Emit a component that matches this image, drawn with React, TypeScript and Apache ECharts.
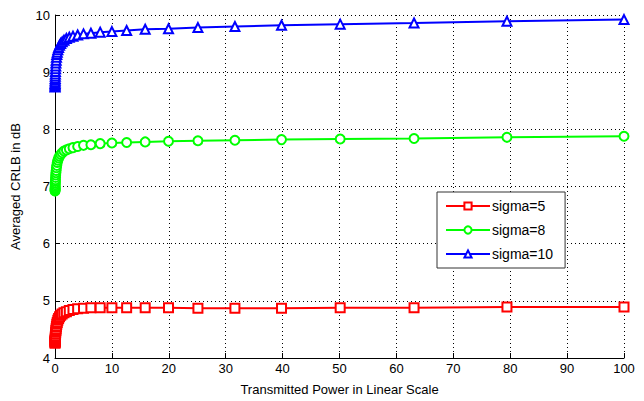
import React, { useEffect, useRef } from "react";
import * as echarts from "echarts";

const power = [
  0.01, 0.0126, 0.0158, 0.02, 0.0251, 0.0316, 0.0398, 0.0501, 0.0631, 0.0794,
  0.1, 0.126, 0.158, 0.2, 0.251, 0.316, 0.398, 0.501, 0.631, 0.794,
  1, 1.26, 1.58, 2, 2.51, 3.16, 3.98, 5.01, 6.31, 7.94,
  10, 12.59, 15.85, 19.95, 25.12, 31.62, 39.81, 50.12, 63.1, 79.43, 100,
];

const sigma5 = [
  4.26, 4.27, 4.28, 4.29, 4.3, 4.31, 4.33, 4.35, 4.37, 4.39,
  4.42, 4.45, 4.48, 4.51, 4.55, 4.59, 4.62, 4.66, 4.69, 4.72,
  4.75, 4.77, 4.79, 4.81, 4.83, 4.85, 4.86, 4.87, 4.88, 4.88,
  4.88, 4.88, 4.88, 4.88, 4.87, 4.87, 4.87, 4.88, 4.88, 4.89, 4.89,
];

const sigma8 = [
  6.92, 6.93, 6.95, 6.96, 6.98, 7.0, 7.03, 7.06, 7.09, 7.12,
  7.16, 7.2, 7.24, 7.28, 7.33, 7.37, 7.42, 7.46, 7.5, 7.53,
  7.56, 7.59, 7.62, 7.64, 7.66, 7.68, 7.7, 7.72, 7.73, 7.75,
  7.76, 7.77, 7.78, 7.79, 7.8, 7.81, 7.82, 7.83, 7.84, 7.86, 7.88,
];

const sigma10 = [
  8.74, 8.76, 8.78, 8.8, 8.83, 8.86, 8.89, 8.93, 8.97, 9.01,
  9.06, 9.11, 9.16, 9.21, 9.26, 9.31, 9.35, 9.39, 9.43, 9.47,
  9.5, 9.53, 9.56, 9.59, 9.61, 9.63, 9.65, 9.67, 9.68, 9.7,
  9.71, 9.73, 9.75, 9.76, 9.78, 9.8, 9.82, 9.84, 9.86, 9.89, 9.92,
];

const seriesNames = ["sigma=5", "sigma=8", "sigma=10"];
const seriesColors = ["#ff0000", "#00ff00", "#0000ff"];
const seriesSymbols = ["emptyRect", "emptyCircle", "emptyTriangle"];
const seriesValues = [sigma5, sigma8, sigma10];

const FONT = "Liberation Sans, Arial, sans-serif";

export default function App() {
  const ref = useRef<HTMLDivElement>(null);
  useEffect(() => {
    if (!ref.current) return;
    const chart = echarts.init(ref.current, undefined, { renderer: "svg" });
    chart.setOption({
      animation: false,
      backgroundColor: "#ffffff",
      textStyle: { fontFamily: FONT },
      grid: { left: 55, right: 20, top: 15, bottom: 43 },
      legend: {
        orient: "vertical",
        left: 437,
        top: 192,
        data: seriesNames,
        itemWidth: 44,
        itemHeight: 9,
        itemGap: 10,
        borderColor: "#333",
        borderWidth: 1,
        backgroundColor: "#fff",
        padding: [7, 12, 7, 8],
        borderRadius: 0,
        textStyle: { fontFamily: FONT, fontSize: 14, color: "#000", padding: [0, 0, 0, -3] },
      },
      xAxis: {
        type: "value",
        min: 0,
        max: 100,
        interval: 10,
        name: "Transmitted Power in Linear Scale",
        nameLocation: "middle",
        nameGap: 25,
        nameTextStyle: { fontFamily: FONT, fontSize: 13, color: "#000" },
        axisLine: { show: true, lineStyle: { color: "#000", width: 1 } },
        axisTick: { show: true, inside: true, length: 5, lineStyle: { color: "#000" } },
        axisLabel: { fontFamily: FONT, fontSize: 13, color: "#000", margin: 4 },
        splitLine: { show: true, lineStyle: { color: "#000", type: [1, 3], width: 1 } },
      },
      yAxis: {
        type: "value",
        min: 4,
        max: 10,
        interval: 1,
        name: "Averaged CRLB in dB",
        nameLocation: "middle",
        nameGap: 33,
        nameTextStyle: { fontFamily: FONT, fontSize: 13, color: "#000" },
        axisLine: { show: true, lineStyle: { color: "#000", width: 1 } },
        axisTick: { show: true, inside: true, length: 5, lineStyle: { color: "#000" } },
        axisLabel: { fontFamily: FONT, fontSize: 13, color: "#000", margin: 5 },
        splitLine: { show: true, lineStyle: { color: "#000", type: [1, 3], width: 1 } },
      },
      series: seriesNames.map((name, i) => ({
        name,
        type: "line",
        data: power.map((p, j) => [p, seriesValues[i][j]]),
        symbol: seriesSymbols[i],
        symbolSize: 9,
        showAllSymbol: true,
        lineStyle: { color: seriesColors[i], width: 2 },
        itemStyle: { color: seriesColors[i], borderWidth: 1.5 },
        z: 3 + i,
      })),
    });
    return () => chart.dispose();
  }, []);
  return (
    <div
      ref={ref}
      style={{ position: "fixed", left: 0, top: 0, width: 644, height: 401 }}
    />
  );
}
